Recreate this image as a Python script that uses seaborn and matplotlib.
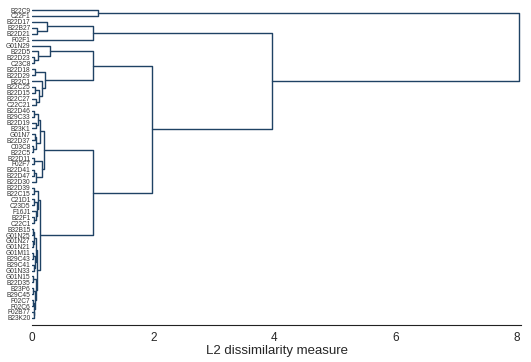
import matplotlib
matplotlib.use("Agg")
import matplotlib.pyplot as plt
import pandas as pd
import seaborn as sns

# leaf order, top to bottom
leaf_labels = [
    "B22C9", "C22F1", "B22D17", "B22B27", "B22D21", "F02F1", "G01N29", "B22D5",
    "B22D23", "C23C8", "B22D18", "B22D29", "B22C1", "B22C25", "B22D15", "B22C27",
    "C22C21", "B22D46", "B29C33", "B22D19", "B23K1", "G01N7", "B22D37", "C03C8",
    "B22C5", "B22D11", "F02F7", "B22D41", "B22D47", "B22D30", "B22D39", "B22C15",
    "C21D1", "C23D5", "F16J1", "B22F1", "C22C1", "B32B15", "G01N25", "G01N27",
    "G01N21", "G01M11", "B29C43", "B29C41", "G01N33", "G01N15", "B22D35", "B23P6",
    "B29C45", "F02C7", "F02C6", "F02B77", "B23K20",
]

# merges: node n{i} joins merge_left[i] and merge_right[i] at merge_height[i]
merge_left = [
    "B22C9", "B22B27", "B22D17", "n2", "B22D23", "B22D5", "G01N29", "B22D18",
    "B22C25", "B22C27", "n8", "B22C1", "n7", "n6", "B22D46", "B22D19", "n14",
    "G01N7", "C03C8", "n17", "n16", "B22D11", "B22D41", "n22", "n21", "n20",
    "B22D39", "C21D1", "B22F1", "F16J1", "n27", "n26", "B32B15", "G01N27", "n32",
    "G01M11", "B29C41", "n35", "n34", "G01N15", "B23P6", "F02C7", "F02B77", "n41",
    "n40", "n39", "n38", "n31", "n25", "n13", "n3", "n0",
]
merge_right = [
    "C22F1", "B22D21", "n1", "F02F1", "C23C8", "n4", "n5", "B22D29",
    "B22D15", "C22C21", "n9", "n10", "n11", "n12", "B29C33", "B23K1", "n15",
    "B22D37", "B22C5", "n18", "n19", "F02F7", "B22D47", "B22D30", "n23", "n24",
    "B22C15", "C23D5", "C22C1", "n28", "n29", "n30", "G01N25", "G01N21", "n33",
    "B29C43", "G01N33", "n36", "n37", "B22D35", "B29C45", "F02C6", "B23K20", "n42",
    "n43", "n44", "n45", "n46", "n47", "n48", "n49", "n50",
]
merge_height = [
    1.09, 0.08, 0.24, 1.00, 0.03, 0.10, 0.30, 0.05,
    0.05, 0.06, 0.12, 0.17, 0.21, 1.00, 0.04, 0.06, 0.10,
    0.05, 0.02, 0.07, 0.13, 0.03, 0.04, 0.06, 0.16, 0.19,
    0.03, 0.04, 0.03, 0.06, 0.08, 0.10, 0.02, 0.02, 0.04,
    0.02, 0.03, 0.05, 0.06, 0.02, 0.02, 0.02, 0.03, 0.04,
    0.05, 0.06, 0.09, 0.14, 1.00, 1.98, 3.96, 8.03,
]

x_ticks = [0, 2, 4, 6, 8]
x_label = "L2 dissimilarity measure"


def build_segments():
    pos = {name: (0.0, float(i)) for i, name in enumerate(leaf_labels)}
    rows = []
    for i, (a, b, h) in enumerate(zip(merge_left, merge_right, merge_height)):
        (ha, ya), (hb, yb) = pos[a], pos[b]
        for x, y in [(ha, ya), (h, ya), (h, yb), (hb, yb)]:
            rows.append({"link": i, "x": x, "y": y})
        pos[f"n{i}"] = (h, (ya + yb) / 2)
    return pd.DataFrame(rows)


def main() -> None:
    sns.set_style("white")
    plt.rcParams["font.family"] = ["Liberation Sans", "DejaVu Sans"]

    seg = build_segments()
    fig = plt.figure(figsize=(5.31, 3.62), dpi=100)
    ax = fig.add_axes([32 / 531, 37 / 362, 489 / 531, 320 / 362])

    sns.lineplot(
        data=seg, x="x", y="y", units="link", estimator=None, sort=False,
        color="#1f4264", linewidth=1.0, ax=ax,
    )

    ax.set_xlim(0, 8.07)
    ax.set_ylim(53.2, -0.85)
    ax.set_yticks(range(len(leaf_labels)))
    ax.set_yticklabels(leaf_labels, fontsize=4.8, color="#333333")
    ax.tick_params(axis="y", length=0, pad=1)
    ax.set_xticks(x_ticks)
    ax.set_xticklabels([str(t) for t in x_ticks], fontsize=8.5)
    ax.tick_params(axis="x", length=4, width=0.8, color="#222222", pad=1)
    ax.set_xlabel(x_label, fontsize=9.5, labelpad=1)
    ax.set_ylabel("")
    for side in ["top", "right", "left"]:
        ax.spines[side].set_visible(False)
    ax.spines["bottom"].set_color("#222222")
    ax.spines["bottom"].set_linewidth(0.8)

    fig.savefig("out.png", dpi=100)
    plt.close(fig)


if __name__ == "__main__":
    main()
